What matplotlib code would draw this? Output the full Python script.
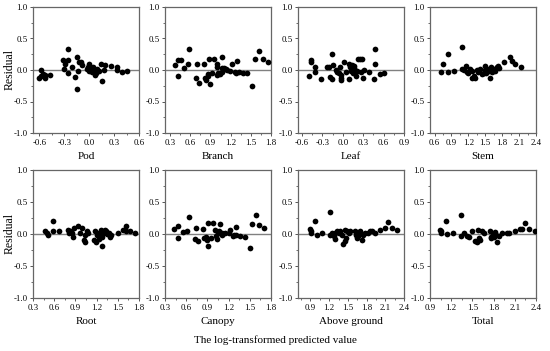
import matplotlib
matplotlib.use("Agg")
import matplotlib.pyplot as plt
from matplotlib.ticker import MultipleLocator, FormatStrFormatter

plt.rcParams['font.family'] = ['Liberation Serif', 'DejaVu Serif']
plt.rcParams['axes.unicode_minus'] = True

# ---- data (predicted value, residual) ----
pod_x = [-0.6, -0.58, -0.58, -0.55, -0.53, -0.53, -0.47, -0.32, -0.30, -0.29, -0.26, -0.26, -0.26,
         -0.2, -0.17, -0.15, -0.14, -0.13, -0.12, -0.1, -0.08, -0.02, -0.01, 0.0, 0.0, 0.02, 0.03,
         0.05, 0.06, 0.08, 0.07, 0.09, 0.12, 0.14, 0.16, 0.18, 0.19, 0.26, 0.33, 0.34, 0.4, 0.45]
pod_y = [-0.13, -0.10, 0.0, -0.07, -0.13, -0.08, -0.08, 0.16, 0.01, 0.09, 0.34, 0.16, -0.05,
         0.04, -0.11, 0.2, -0.3, -0.01, 0.13, 0.13, 0.08, 0.01, 0.04, 0.09, -0.02, 0.01, -0.03,
         0.04, 0.0, -0.04, -0.08, 0.02, -0.02, 0.09, -0.17, 0.0, 0.08, 0.06, 0.0, 0.05, -0.03, -0.02]

branch_x = [0.375, 0.425, 0.46, 0.425, 0.51, 0.565, 0.575, 0.7, 0.69, 0.735, 0.81, 0.815, 0.84,
            0.86, 0.885, 0.865, 0.9, 0.925, 0.96, 1.0, 1.0, 1.0, 1.015, 1.035, 1.065, 1.065, 1.075,
            1.1, 1.125, 1.15, 1.185, 1.225, 1.265, 1.29, 1.275, 1.325, 1.385, 1.45, 1.525, 1.565,
            1.625, 1.675, 1.75]
branch_y = [0.08, 0.16, 0.16, -0.09, 0.03, 0.09, 0.33, 0.1, -0.13, -0.21, 0.1, -0.12, -0.16,
            -0.06, 0.18, -0.1, -0.22, -0.05, 0.17, 0.09, 0.05, -0.08, -0.04, -0.06, 0.2, 0.03, -0.03,
            0.03, 0.01, 0.0, -0.01, 0.09, -0.03, 0.14, -0.04, -0.03, -0.04, -0.05, -0.25, 0.17,
            0.3, 0.17, 0.12]

leaf_x = [-0.5, -0.475, -0.465, -0.41, -0.41, -0.32, -0.23, -0.2, -0.19, -0.165, -0.165, -0.14,
          -0.105, -0.08, -0.06, -0.045, -0.025, -0.025, -0.02, 0.013, 0.04, 0.085, 0.095, 0.11,
          0.125, 0.135, 0.145, 0.16, 0.17, 0.18, 0.19, 0.205, 0.22, 0.25, 0.275, 0.265, 0.3, 0.315,
          0.39, 0.455, 0.47, 0.48, 0.54, 0.6]
leaf_y = [-0.09, 0.16, 0.13, 0.05, -0.03, -0.14, 0.04, 0.05, -0.11, -0.14, 0.25, 0.08,
          0.0, -0.03, -0.05, 0.05, -0.08, -0.16, -0.12, 0.12, -0.03, -0.14, 0.1, 0.05,
          -0.01, 0.08, -0.05, 0.03, 0.07, -0.05, -0.1, -0.02, 0.17, 0.17, 0.17, -0.03, -0.12, 0.0,
          -0.03, -0.14, 0.09, 0.33, -0.06, -0.05]

stem_x = [0.71, 0.75, 0.84, 0.84, 0.94, 1.08, 1.09, 1.12, 1.15, 1.17, 1.19, 1.23, 1.26, 1.27,
          1.30, 1.32, 1.35, 1.38, 1.40, 1.44, 1.47, 1.49, 1.49, 1.52, 1.53, 1.56, 1.58, 1.60,
          1.62, 1.65, 1.67, 1.70, 1.73, 1.74, 1.83, 1.93, 1.97, 2.03, 2.13]
stem_y = [-0.03, 0.09, 0.26, -0.03, -0.02, 0.37, 0.02, 0.0, 0.06, -0.03, -0.05, 0.01, -0.02, -0.13,
          -0.1, -0.13, 0.0, -0.03, 0.02, -0.07, -0.04, 0.06, 0.0, -0.05, 0.01, -0.02, -0.13, 0.04,
          -0.03, 0.01, -0.01, 0.04, 0.06, 0.03, 0.13, 0.21, 0.14, 0.1, 0.04]

root_x = [0.47, 0.495, 0.51, 0.58, 0.585, 0.67, 0.79, 0.805, 0.83, 0.85, 0.86, 0.885, 0.93, 0.97,
          0.995, 1.015, 1.03, 1.04, 1.06, 1.085, 1.17, 1.18, 1.195, 1.21, 1.23, 1.24, 1.265, 1.275,
          1.275, 1.29, 1.315, 1.34, 1.35, 1.37, 1.385, 1.41, 1.505, 1.575, 1.615, 1.615, 1.67, 1.74]
root_y = [0.05, 0.02, -0.02, 0.2, 0.05, 0.04, 0.07, 0.02, 0.05, 0.01, -0.04, 0.09, 0.13, 0.01,
          0.09, -0.09, -0.12, -0.02, 0.04, 0.01, -0.09, 0.05, -0.12, -0.02, -0.08, 0.02, 0.07, -0.19,
          -0.04, 0.01, 0.06, 0.04, 0.0, 0.02, -0.04, -0.02, 0.02, 0.07, 0.13, 0.05, 0.04, 0.01]

canopy_x = [0.43, 0.48, 0.48, 0.55, 0.61, 0.64, 0.74, 0.73, 0.77, 0.84, 0.85, 0.88, 0.9, 0.91,
            0.91, 0.95, 0.975, 1.01, 1.02, 1.03, 1.055, 1.08, 1.07, 1.1, 1.11, 1.15, 1.2, 1.225,
            1.26, 1.27, 1.3, 1.31, 1.36, 1.43, 1.5, 1.535, 1.585, 1.63, 1.7]
canopy_y = [0.08, 0.13, -0.07, 0.03, 0.05, 0.27, 0.09, -0.08, -0.11, 0.08, -0.07, -0.04, -0.09, -0.19,
            0.17, -0.07, 0.17, 0.06, -0.03, -0.08, 0.01, 0.16, 0.04, 0.02, -0.02, 0.01, 0.02, 0.07,
            -0.03, -0.02, 0.11, -0.02, -0.03, -0.04, -0.22, 0.16, 0.3, 0.14, 0.1]

above_x = [0.9, 0.91, 0.91, 0.97, 1.0, 1.08, 1.21, 1.21, 1.24, 1.27, 1.29, 1.3, 1.33, 1.36, 1.37,
           1.4, 1.42, 1.45, 1.45, 1.47, 1.49, 1.52, 1.53, 1.62, 1.63, 1.64, 1.66, 1.67, 1.7, 1.72,
           1.74, 1.78, 1.82, 1.86, 1.88, 1.93, 2.02, 2.09, 2.14, 2.2, 2.29]
above_y = [0.08, 0.05, 0.02, 0.21, -0.02, 0.01, 0.34, -0.02, 0.02, -0.03, 0.01, -0.08, 0.04, 0.02, 0.04,
           -0.01, -0.15, 0.06, -0.11, -0.07, 0.05, 0.02, 0.04, 0.04, -0.02, -0.07, 0.01, -0.03, 0.05, -0.09,
           -0.02, 0.02, 0.01, 0.04, 0.04, 0.02, 0.06, 0.1, 0.19, 0.1, 0.06]

total_x = [1.04, 1.05, 1.06, 1.12, 1.14, 1.23, 1.345, 1.345, 1.38, 1.43, 1.45, 1.5, 1.54, 1.56,
           1.575, 1.59, 1.61, 1.635, 1.665, 1.745, 1.76, 1.77, 1.79, 1.8, 1.82, 1.835, 1.85, 1.87,
           1.92, 1.99, 2.02, 2.1, 2.18, 2.2, 2.24, 2.3, 2.38]
total_y = [0.06, 0.04, 0.02, 0.21, 0.0, 0.01, 0.29, -0.03, 0.02, -0.03, -0.04, 0.05, -0.11, -0.12,
           0.06, -0.07, -0.09, 0.05, 0.02, 0.04, -0.04, -0.07, -0.01, -0.04, 0.03, -0.01, -0.12, -0.03,
           0.02, 0.02, 0.01, 0.05, 0.08, 0.08, 0.17, 0.08, 0.05]

names = ["Pod", "Branch", "Leaf", "Stem", "Root", "Canopy", "Above ground", "Total"]
xs = [pod_x, branch_x, leaf_x, stem_x, root_x, canopy_x, above_x, total_x]
ys = [pod_y, branch_y, leaf_y, stem_y, root_y, canopy_y, above_y, total_y]
xlims = [(-0.675, 0.6), (0.225, 1.8), (-0.66, 0.9), (0.52, 2.4),
         (0.3, 1.8), (0.3, 1.8), (0.7, 2.4), (0.9, 2.4)]

W, H = 550, 351
fig = plt.figure(figsize=(5.5, 3.51), dpi=100)

lefts = [33, 165, 298, 430]
width = 106
rows = [(7, 133), (170, 298)]

for i in range(8):
    r, c = divmod(i, 4)
    top, bot = rows[r]
    ax = fig.add_axes([lefts[c] / W, 1 - bot / H, width / W, (bot - top) / H])
    ax.axhline(0, color='#808080', lw=1.0, zorder=1)
    ax.scatter(xs[i], ys[i], s=17, color='black', zorder=3, linewidths=0)
    ax.set_xlim(*xlims[i])
    ax.set_ylim(-1.0, 1.0)
    ax.xaxis.set_major_locator(MultipleLocator(0.3))
    ax.xaxis.set_minor_locator(MultipleLocator(0.15))
    ax.yaxis.set_major_locator(MultipleLocator(0.5))
    ax.yaxis.set_minor_locator(MultipleLocator(0.25))
    ax.xaxis.set_major_formatter(FormatStrFormatter('%.1f'))
    ax.yaxis.set_major_formatter(FormatStrFormatter('%.1f'))
    ax.tick_params(which='major', direction='out', length=2.5, width=0.7,
                   labelsize=6.3, pad=1.5, color='#555555')
    ax.tick_params(which='minor', direction='out', length=1.5, width=0.6, color='#555555')
    for sp in ax.spines.values():
        sp.set_color('#666666')
        sp.set_linewidth(0.9)
    ax.set_xlabel(names[i], fontsize=8, labelpad=4)
    if c == 0:
        fig.text(10 / W, 1 - (top + bot) / 2 / H, "Residual", rotation=90,
                 ha='center', va='center', fontsize=8.5)

fig.text(275 / W, 1 - 340 / H, "The log-transformed predicted value",
         ha='center', va='center', fontsize=8)

fig.savefig("out.png", dpi=100)
